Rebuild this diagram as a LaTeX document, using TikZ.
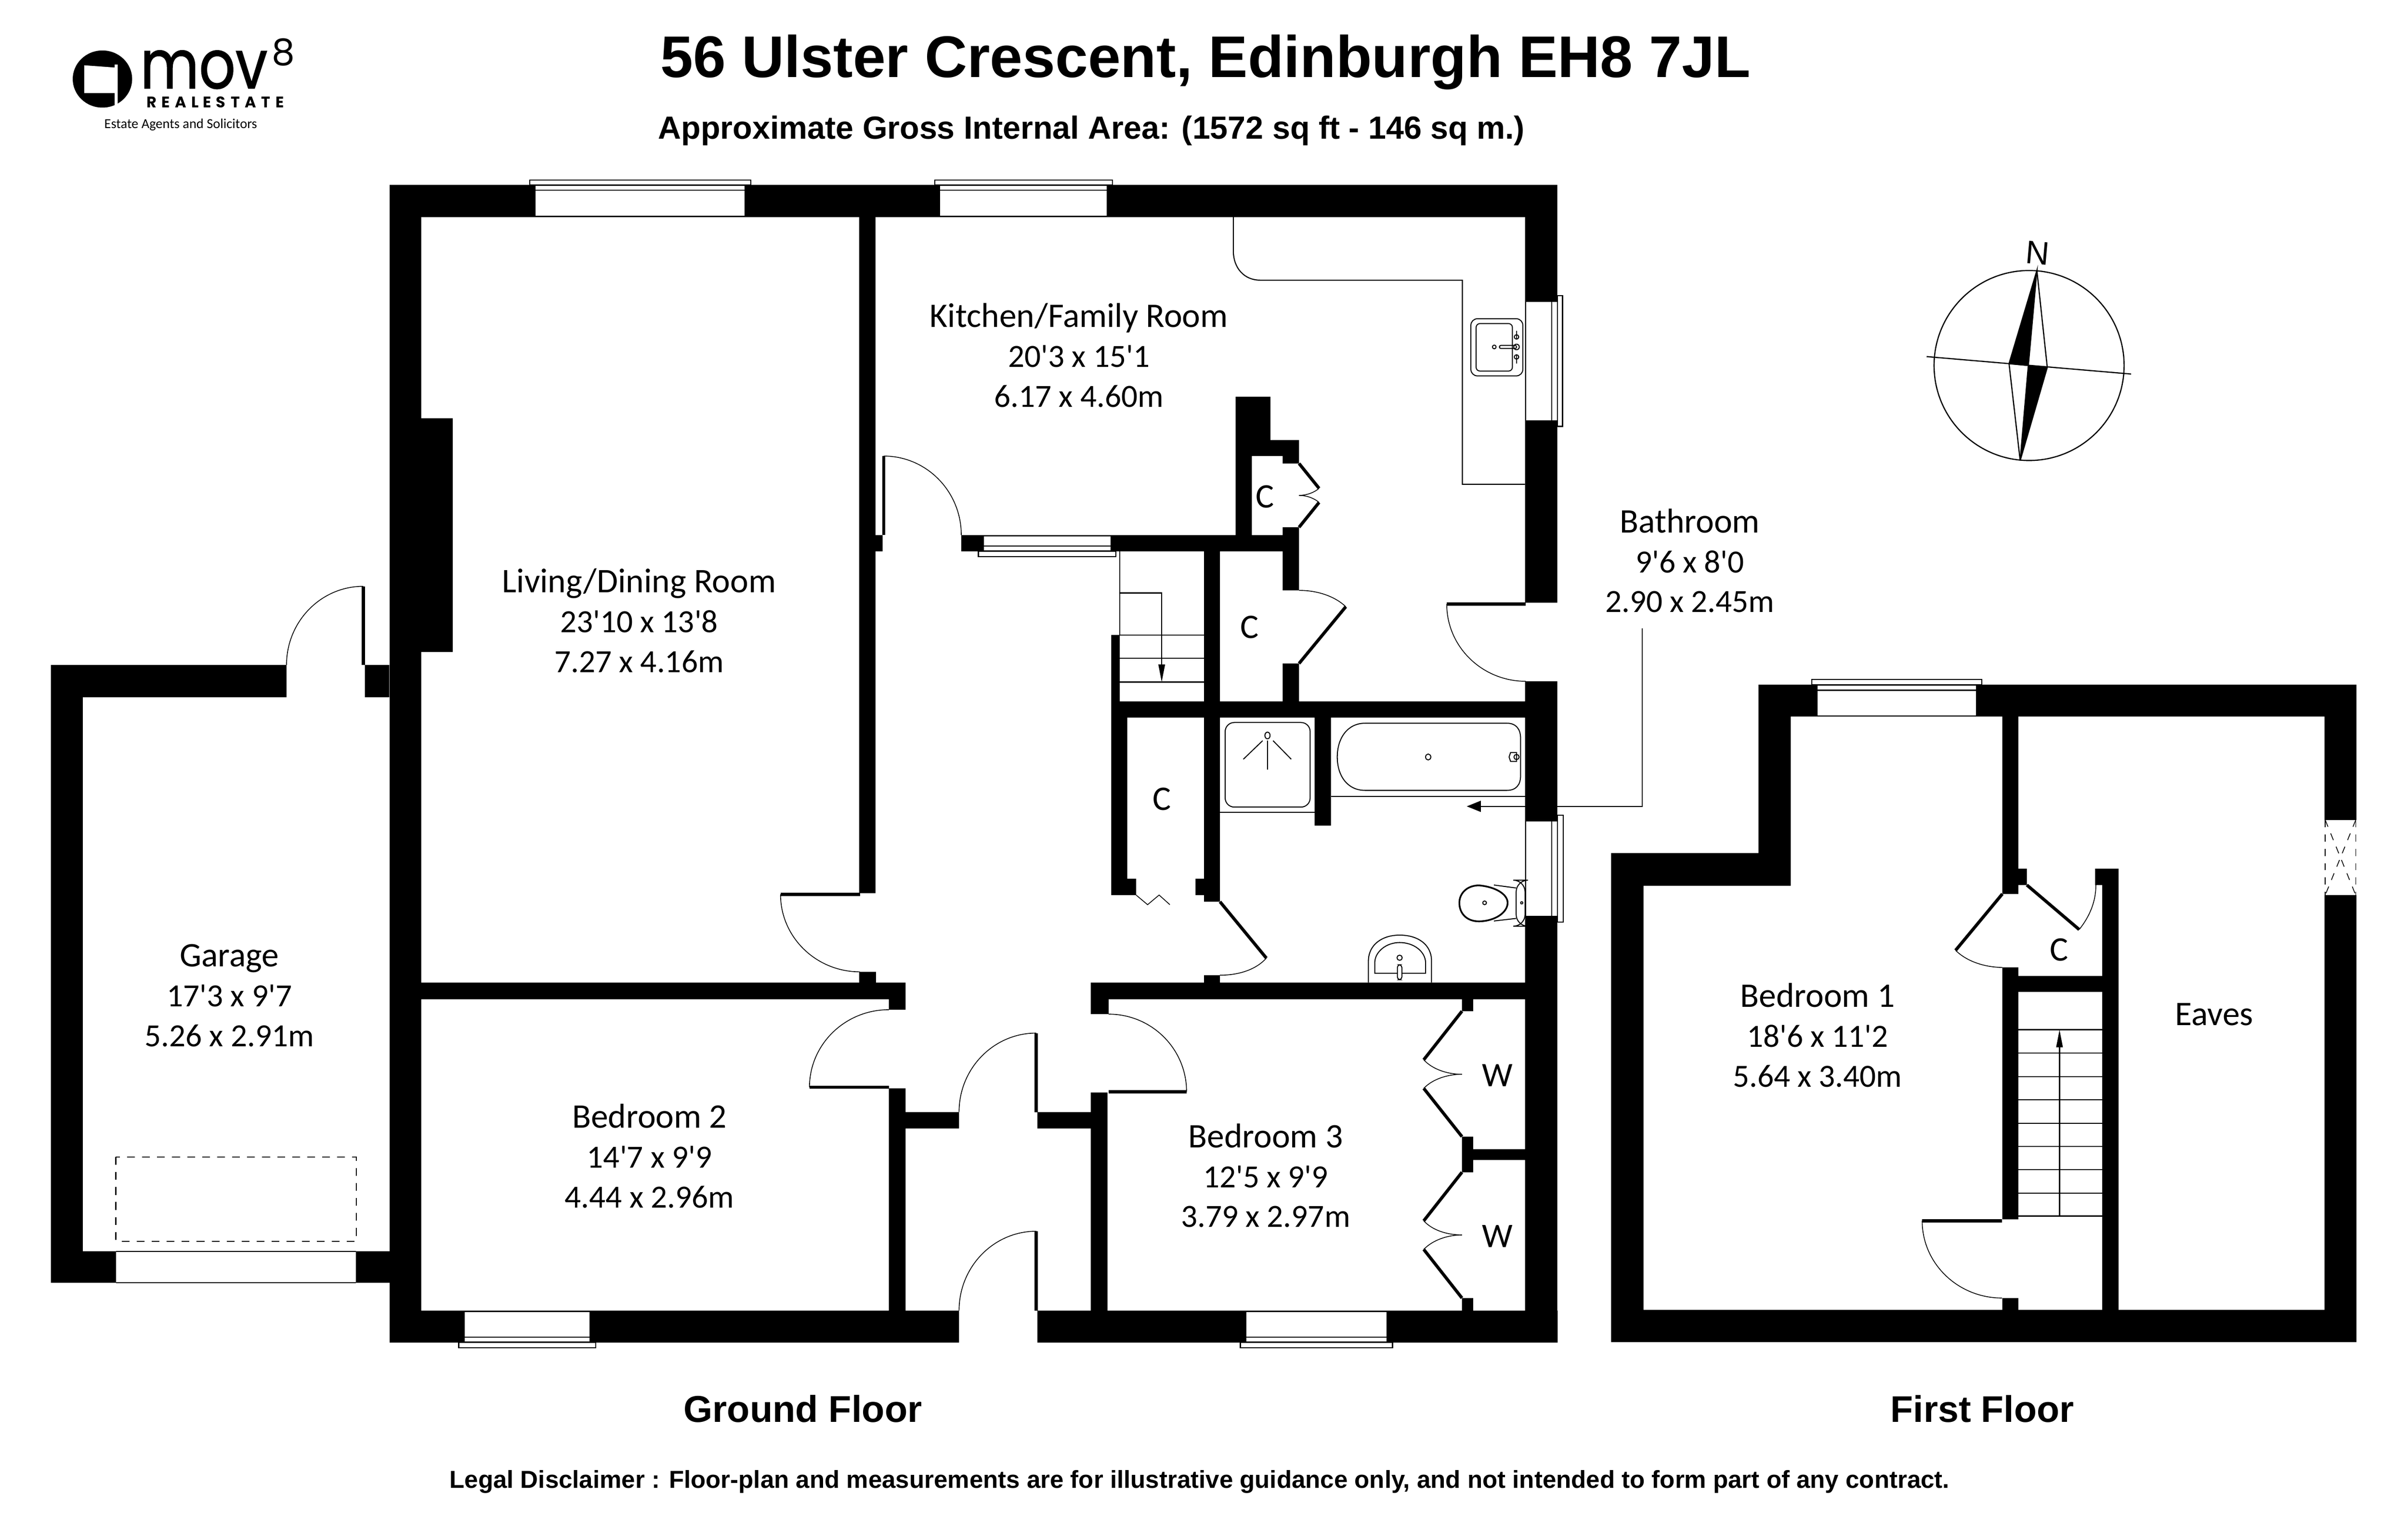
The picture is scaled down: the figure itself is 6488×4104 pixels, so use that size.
\documentclass[tikz,border=0pt]{standalone}
\usepackage{fontspec}
\usetikzlibrary{calc,arrows.meta}
\setmainfont{Liberation Sans}
\newfontfamily\lab{Carlito}[Ligatures=TeXOff]
\newfontfamily\logofont{Poppins}
\newcommand\labfont{\lab\fontsize{24.8}{30.6}\selectfont}
\newcommand\nm[1]{{\fontsize{26.4}{30.6}\selectfont #1}}
\newcommand\qarc[6]{\draw[arcl] (#3,#4) .. controls ($(#3,#4)+0.5523*(#5,#6)-0.5523*(#1,#2)$) and ($(#5,#6)+0.5523*(#3,#4)-0.5523*(#1,#2)$) .. (#5,#6);}
\newcommand\doorleaf[6]{\draw[leaf] (#1,#2) -- (#3,#4); \qarc{#1}{#2}{#3}{#4}{#5}{#6}}
\newcommand\wall[4]{(#1,#2) rectangle (#3,#4)}
\newcommand\wind[8]{% x1 y1 x2 y2 (opening), then sill rectangle
  \fill[white] (#1,#2) rectangle (#3,#4);
  \draw[thinl] (#1,#2) rectangle (#3,#4);
  \draw[thinl] (#5,#6) rectangle (#7,#8);}
\tikzset{
  wall fill/.style={fill=black},
  thinl/.style={line width=0.8pt,draw=black},
  arcl/.style={line width=0.6pt,draw=black},
  leaf/.style={line width=2.4pt,draw=black},
  fix/.style={line width=0.75pt,draw=black},
  every node/.style={inner sep=0pt,outer sep=0pt},
  room/.style={align=center,font=\labfont},
  tag/.style={font=\labfont\fontsize{26.4}{30.6}\selectfont},
  headline/.style={anchor=base,font=\bfseries},
}
\begin{document}
\begin{tikzpicture}[x=0.01cm,y=-0.01cm]
\useasboundingbox (0,0) rectangle (6488,4104);
\fill[white] (0,0) rectangle (6488,4104);

%% ---------- logo
\fill[black] (276,213) ellipse [x radius=80,y radius=77];
\fill[white] (227,176) -- (309,182) -- (309,174) -- (317,174) -- (317,284) -- (309,284) -- (309,251) -- (227,251) -- cycle;
\node[anchor=base west,xscale=0.84] (logomov) at (378,238) {\fontsize{52}{52}\selectfont\logofont\addfontfeature{FakeBold=1.3}mov};
\node[anchor=base west] (logoeight) at (733,176) {\fontsize{28}{28}\selectfont\logofont 8};
\node[anchor=base] (logore) at (580,290) {\fontsize{11.8}{12}\selectfont\logofont\bfseries\addfontfeature{LetterSpace=33}REAL\hspace{0.25em}ESTATE};
\node[anchor=base] (logoag) at (487,346) {\fontsize{10.5}{11}\selectfont\lab Estate Agents and Solicitors};

%% ---------- headings
\node[headline] (title) at (3248,208) {\fontsize{45}{46}\selectfont 56 Ulster Crescent, Edinburgh EH8 7JL};
\node[headline] (subtitle) at (2941,375) {\fontsize{24.5}{25}\selectfont Approximate Gross Internal Area: (1572 sq ft - 146 sq m.)};
\node[headline] (gf) at (2163,3832) {\fontsize{28.6}{29}\selectfont Ground Floor};
\node[headline] (ff) at (5341,3832) {\fontsize{28.4}{29}\selectfont First Floor};
\node[headline] (legal) at (3232,4010) {\fontsize{18.83}{19}\selectfont Legal Disclaimer : Floor-plan and measurements are for illustrative guidance only, and not intended to form part of any contract.};

%% ---------- ground floor walls
\fill[wall fill]
 \wall{137}{1792}{772}{1879} \wall{983}{1792}{1049}{1879}
 \wall{137}{1792}{223}{3457} \wall{137}{3372}{1050}{3457}
 \wall{1050}{498}{4196}{585} \wall{1050}{498}{1135}{3618}
 \wall{1135}{1127}{1220}{1757}
 \wall{1050}{3532}{2584}{3618} \wall{2795}{3532}{4197}{3618}
 \wall{4109}{498}{4196}{1624} \wall{4109}{1836}{4196}{3618}
 \wall{2315}{585}{2359}{2407} \wall{2315}{1442}{2378}{1486}
 \wall{2590}{1442}{3500}{1486}
 \wall{3329}{1069}{3423}{1229} \wall{3329}{1186}{3500}{1229}
 \wall{3456}{1229}{3500}{1249} \wall{3329}{1069}{3373}{1442}
 \wall{3456}{1421}{3500}{1442} \wall{3456}{1486}{3500}{1591}
 \wall{3456}{1788}{3500}{1890} \wall{3244}{1486}{3287}{1890}
 \wall{2994}{1890}{4111}{1934} \wall{2994}{1711}{3017}{1890}
 \wall{2994}{1934}{3037}{2368} \wall{2994}{2368}{3061}{2412}
 \wall{3244}{1934}{3287}{2430} \wall{3221}{2368}{3244}{2412}
 \wall{3244}{2628}{3287}{2648} \wall{3542}{1934}{3586}{2225}
 \wall{2939}{2648}{4111}{2693} \wall{2939}{2693}{2987}{2733}
 \wall{2315}{2619}{2360}{2648} \wall{1135}{2648}{2440}{2693}
 \wall{2395}{2693}{2440}{2721}
 \wall{2395}{2933}{2440}{3532} \wall{2440}{2997}{2584}{3041}
 \wall{2795}{2997}{2942}{3041} \wall{2939}{2944}{2984}{3532}
 \wall{3939}{2693}{3969}{2725} \wall{3939}{3063}{3969}{3159}
 \wall{3969}{3097}{4111}{3126} \wall{3939}{3498}{3969}{3532}
 %% first floor walls
 \wall{4738}{1845}{6349}{1931} \wall{4738}{1845}{4825}{2387}
 \wall{4341}{2299}{4825}{2387} \wall{4341}{2299}{4428}{3617}
 \wall{4341}{3530}{6349}{3617}
 \wall{6263}{1845}{6349}{2210} \wall{6263}{2412}{6349}{3617}
 \wall{5395}{1931}{5438}{2409} \wall{5438}{2341}{5461}{2385}
 \wall{5395}{2607}{5438}{3286} \wall{5395}{3498}{5438}{3530}
 \wall{5438}{2630}{5664}{2673} \wall{5664}{2385}{5708}{3530}
 \wall{5645}{2341}{5708}{2385};

%% ---------- windows
\wind{1442}{500}{2008}{583}{1427}{485}{2023}{498}
\draw[thinl] (1442,513) -- (2008,513);
\wind{2532}{500}{2983}{583}{2519}{485}{2997}{498}
\draw[thinl] (2532,513) -- (2983,513);
\wind{4111}{812}{4196}{1134}{4196}{797}{4210}{1149}
\draw[thinl] (4181,812) -- (4181,1134);
\wind{4111}{2212}{4196}{2470}{4196}{2197}{4212}{2485}
\draw[thinl] (4181,2212) -- (4181,2470);
\wind{2650}{1444}{2993}{1484}{2636}{1486}{3007}{1500}
\draw[thinl] (2650,1471) -- (2993,1471);
\wind{1251}{3534}{1590}{3616}{1236}{3618}{1605}{3632}
\draw[thinl] (1251,3603) -- (1590,3603);
\wind{3357}{3534}{3737}{3616}{3342}{3618}{3752}{3632}
\draw[thinl] (3357,3603) -- (3737,3603);
\wind{4896}{1847}{5325}{1930}{4881}{1831}{5340}{1845}
\draw[thinl] (4896,1860) -- (5325,1860);
\fill[white] (313,3373) rectangle (959,3456);
\draw[thinl] (313,3372) -- (959,3372) (313,3457) -- (959,3457);
\draw[thinl,dash pattern=on 6pt off 5.5pt] (312,3118) rectangle (960,3345);

%% ---------- eaves window
\begin{scope}[arcl,dash pattern=on 5.5pt off 5.5pt]
\draw (6265,2210) -- (6265,2412);
\draw (6347,2210) -- (6347,2412);
\draw (6265,2210) -- (6347,2412);
\draw (6347,2210) -- (6265,2412);
\end{scope}

%% ---------- doors
\doorleaf{979}{1792}{979}{1580}{772}{1792}
\doorleaf{2381}{1442}{2381}{1229}{2590}{1442}
\doorleaf{2317}{2410}{2103}{2410}{2317}{2619}
\doorleaf{2395}{2930}{2181}{2930}{2395}{2721}
\doorleaf{2792}{2997}{2792}{2784}{2584}{2997}
\doorleaf{2987}{2942}{3197}{2942}{2987}{2733}
\doorleaf{2792}{3532}{2792}{3318}{2584}{3532}
\doorleaf{4111}{1628}{3898}{1628}{4111}{1836}
\doorleaf{5394}{3290}{5179}{3290}{5394}{3498}

%% closet doors
\draw[leaf] (3500,1788) -- (3626,1635);
\draw[arcl] (3500,1591) .. controls (3555,1591) and (3600,1610) .. (3626,1635);
\draw[leaf] (3500,1249) -- (3554,1316);
\draw[leaf] (3500,1421) -- (3554,1354);
\draw[arcl] (3554,1316) .. controls (3540,1328) and (3520,1335) .. (3500,1335);
\draw[arcl] (3554,1354) .. controls (3540,1342) and (3520,1335) .. (3500,1335);
\draw[arcl] (3061,2412) -- (3092,2438) -- (3123,2412) -- (3152,2438);
\draw[leaf] (3287,2430) -- (3412,2582);
\draw[arcl] (3287,2628) .. controls (3340,2628) and (3385,2612) .. (3412,2582);
%% wardrobes
\draw[leaf] (3939,2725) -- (3836,2856);
\draw[leaf] (3939,3063) -- (3836,2933);
\draw[arcl] (3836,2856) .. controls (3860,2882) and (3900,2895) .. (3939,2895);
\draw[arcl] (3836,2933) .. controls (3860,2908) and (3900,2895) .. (3939,2895);
\draw[leaf] (3939,3159) -- (3836,3290);
\draw[leaf] (3939,3498) -- (3836,3367);
\draw[arcl] (3836,3290) .. controls (3860,3316) and (3900,3328) .. (3939,3328);
\draw[arcl] (3836,3367) .. controls (3860,3342) and (3900,3328) .. (3939,3328);
%% first floor closet
\draw[leaf] (5461,2385) -- (5602,2505);
\draw[arcl] (5602,2505) .. controls (5630,2470) and (5647,2430) .. (5647,2385);
\draw[leaf] (5395,2409) -- (5269,2561);
\draw[arcl] (5269,2561) .. controls (5300,2592) and (5350,2607) .. (5395,2607);

%% ---------- kitchen fittings
\draw[thinl] (3323,585) -- (3323,676) .. controls (3323,722) and (3352,755) .. (3395,755) -- (3940,755) -- (3940,1305) -- (4109,1305);
\draw[fix,rounded corners=5pt] (3963,859) rectangle (4103,1013);
\draw[fix,rounded corners=3pt] (3977,872) rectangle (4075,1000);
\draw[fix] (4026,935) circle (5);
\draw[fix,rounded corners=1pt] (4040,931) rectangle (4086,939);
\draw[fix] (4086,935) circle (7.5);
\draw[fix] (4086,908) circle (6);
\draw[fix] (4086,892) -- (4086,912);
\draw[fix] (4086,962) circle (6);
\draw[fix] (4086,958) -- (4086,980);

%% ---------- stairs
\draw[thinl] (3017,1486) -- (3017,1711);
\foreach \yy in {1711,1774,1838} \draw[thinl] (3017,\yy) -- (3244,\yy);
\coordinate (stairA) at (3017,1598);
\coordinate (stairB) at (3130,1838);
\draw[thinl,-{Stealth[length=13.5pt,width=5pt,inset=0pt]}] (stairA) -| (stairB);
\foreach \yy in {2775,2838,2901,2964,3027,3090,3152,3215,3277} \draw[thinl] (5438,\yy) -- (5664,\yy);
\coordinate (stairC) at (5549,3277);
\coordinate (stairD) at (5549,2775);
\draw[thinl,-{Stealth[length=13.5pt,width=5pt,inset=0pt]}] (stairC) -- (stairD);

%% ---------- bathroom
\draw[fix,rounded corners=7pt] (3301,1947) rectangle (3530,2175);
\draw[thinl] (3287,2189) -- (3542,2189);
\draw[fix] (3415,1982) ellipse [x radius=7,y radius=9];
\draw[fix] (3402,1996) -- (3350,2046) (3430,1996) -- (3479,2046) (3415,1996) -- (3415,2074);
\draw[fix] (3678,1949) -- (4060,1949) .. controls (4085,1949) and (4097,1965) .. (4097,1990) -- (4097,2090) .. controls (4097,2115) and (4085,2130) .. (4060,2130) -- (3678,2130) .. controls (3630,2130) and (3603,2090) .. (3603,2040) .. controls (3603,1990) and (3630,1949) .. (3678,1949) -- cycle;
\draw[thinl] (3586,2146) -- (4109,2146);
\draw[fix] (3848,2040) ellipse [x radius=7,y radius=8];
\draw[fix] (4066,2040) -- (4070,2028) -- (4086,2028) -- (4086,2052) -- (4070,2052) -- cycle;
\draw[fix] (4086,2040) circle (7);
%% WC
\draw[line width=1.3pt] (3985,2386) .. controls (4030,2390) and (4062,2410) .. (4062,2433) .. controls (4062,2458) and (4030,2482) .. (3985,2483) .. controls (3952,2483) and (3932,2462) .. (3932,2433) .. controls (3932,2408) and (3952,2386) .. (3985,2386) -- cycle;
\draw[fix] (4025,2385) -- (4085,2393) (4025,2482) -- (4085,2475);
\draw[fix,rounded corners=9pt] (4085,2372) rectangle (4109,2496);
\draw[fix] (4000,2433) circle (5);
\draw[fix] (4100,2433) circle (3);
%% basin
\draw[fix] (3687,2648) -- (3687,2590) .. controls (3687,2545) and (3725,2520) .. (3771,2520) .. controls (3820,2520) and (3857,2545) .. (3857,2590) -- (3857,2648);
\draw[fix] (3704,2623) -- (3704,2595) .. controls (3704,2565) and (3735,2540) .. (3771,2540) .. controls (3810,2540) and (3841,2565) .. (3841,2595) -- (3841,2623) -- cycle;
\draw[fix] (3771,2581) circle (7);
\draw[fix,fill=white,rounded corners=2pt] (3765,2600) rectangle (3777,2640);

%% ---------- compass
\draw[line width=0.9pt] (5467,985) circle (256);
\draw[line width=0.9pt] (5191,961) -- (5742,1008);
\draw[line width=0.9pt,fill=black] (5488,729) -- (5413,980) -- (5465,985) -- cycle;
\draw[line width=0.9pt,fill=black] (5443,1241) -- (5516,990) -- (5465,985) -- cycle;
\draw[line width=0.9pt] (5488,729) -- (5516,990);
\draw[line width=0.9pt] (5443,1241) -- (5413,980);
\node[rotate=-5] (north) at (5490,682) {\fontsize{25}{25}\selectfont N};

%% ---------- room labels
\node[room] (kitchen) at (2907,958) {\nm{Kitchen/Family Room}\\20'3 x 15'1\\6.17 x 4.60m};
\node[room] (living) at (1722,1673) {\nm{Living/Dining Room}\\23'10 x 13'8\\7.27 x 4.16m};
\node[room] (garage) at (618,2683) {\nm{Garage}\\17'3 x 9'7\\5.26 x 2.91m};
\node[room] (bed2) at (1750,3115) {\nm{Bedroom 2}\\14'7 x 9'9\\4.44 x 2.96m};
\node[room] (bed3) at (3410,3168) {\nm{Bedroom 3}\\12'5 x 9'9\\3.79 x 2.97m};
\node[room] (bed1) at (4897,2790) {\nm{Bedroom 1}\\18'6 x 11'2\\5.64 x 3.40m};
\node[room] (bath) at (4553,1511) {\nm{Bathroom}\\9'6 x 8'0\\2.90 x 2.45m};
\node[tag] (eaves) at (5966,2734) {Eaves};
\node[tag] (c1) at (3408,1338) {C};
\node[tag] (c2) at (3367,1690) {C};
\node[tag] (c3) at (3131,2154) {C};
\node[tag] (c4) at (5548,2560) {C};
\node[tag] (w1) at (4034,2898) {W};
\node[tag] (w2) at (4034,3331) {W};

%% ---------- bathroom callout
\coordinate (bathfrom) at (4425,1693);
\coordinate (bathto) at (3952,2173);
\draw[thinl,-{Stealth[length=10.8pt,width=8.5pt,inset=0pt]}] (bathfrom) |- (bathto);
\end{tikzpicture}
\end{document}
